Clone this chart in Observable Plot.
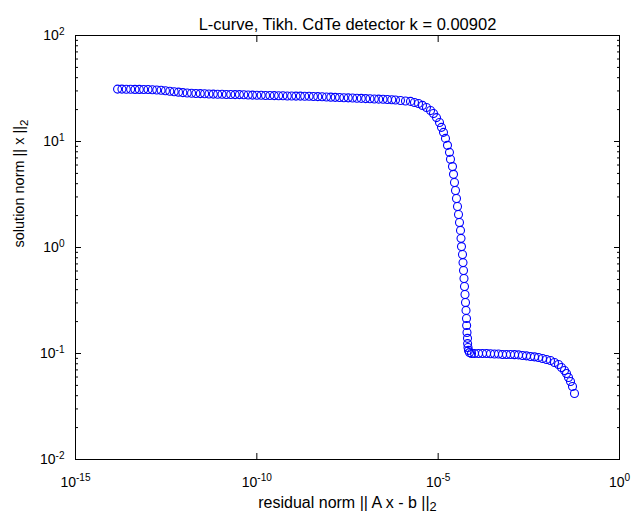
<!DOCTYPE html>
<html>
<head>
<meta charset="utf-8">
<script src="https://cdn.jsdelivr.net/npm/d3@7"></script>
<script src="https://cdn.jsdelivr.net/npm/@observablehq/plot@0.6"></script>
<style>
  html, body { margin: 0; padding: 0; background: #fff; }
  #chart svg { display: block; }
</style>
</head>
<body>
<div id="chart"></div>
<script>
// ---- data ----
const titleText = "L-curve, Tikh. CdTe detector k = 0.00902";
const xLabelText = "residual norm || A x - b ||_2";
const yLabelText = "solution norm || x ||_2";

const xTickExponents = [-15, -10, -5, 0];
const yTickExponents = [-2, -1, 0, 1, 2];

const residualNorm = [
  1.445e-14, 1.905e-14, 2.512e-14, 3.311e-14, 4.365e-14, 5.754e-14, 7.586e-14, 1.000e-13,
  1.318e-13, 1.738e-13, 2.291e-13, 3.020e-13, 3.981e-13, 5.248e-13, 6.918e-13, 9.120e-13,
  1.202e-12, 1.585e-12, 2.089e-12, 2.754e-12, 3.631e-12, 4.786e-12, 6.310e-12, 8.318e-12,
  1.096e-11, 1.445e-11, 1.905e-11, 2.512e-11, 3.311e-11, 4.365e-11, 5.754e-11, 7.586e-11,
  1.000e-10, 1.318e-10, 1.738e-10, 2.291e-10, 3.020e-10, 3.981e-10, 5.248e-10, 6.918e-10,
  9.120e-10, 1.202e-9, 1.585e-9, 2.089e-9, 2.754e-9, 3.631e-9, 4.786e-9, 6.310e-9,
  8.318e-9, 1.096e-8, 1.445e-8, 1.905e-8, 2.512e-8, 3.311e-8, 4.365e-8, 5.754e-8,
  7.586e-8, 1.000e-7, 1.318e-7, 1.738e-7, 2.291e-7, 3.020e-7, 3.981e-7, 5.248e-7,
  6.650e-7, 9.140e-7, 1.256e-6, 1.726e-6, 2.223e-6, 2.871e-6, 3.698e-6, 4.764e-6,
  6.152e-6, 7.430e-6, 8.995e-6, 1.089e-5, 1.236e-5, 1.403e-5, 1.592e-5, 1.807e-5,
  2.051e-5, 2.188e-5, 2.483e-5, 2.649e-5, 2.818e-5, 3.006e-5, 3.199e-5, 3.412e-5,
  3.639e-5, 3.873e-5, 4.130e-5, 4.266e-5, 4.395e-5, 4.688e-5, 4.842e-5, 5.000e-5,
  5.152e-5, 5.321e-5, 5.495e-5, 5.675e-5, 5.861e-5, 6.039e-5, 6.095e-5, 6.237e-5,
  6.442e-5, 6.486e-5, 6.653e-5, 6.855e-5, 7.311e-5, 8.299e-5,
  1.005e-4, 1.294e-4, 1.667e-4, 2.153e-4, 2.773e-4, 3.573e-4, 4.603e-4, 5.943e-4,
  7.656e-4, 9.863e-4, 1.274e-3, 1.641e-3, 2.113e-3, 2.723e-3, 3.516e-3, 4.529e-3,
  5.834e-3, 7.534e-3, 9.705e-3, 1.250e-2, 1.611e-2, 2.080e-2, 2.512e-2, 3.041e-2,
  3.459e-2, 3.926e-2, 4.457e-2, 5.058e-2, 5.741e-2
];

const solutionNorm = [
  31.2, 31.2, 31.1, 31.1, 31.0, 31.0, 30.9, 30.9,
  30.8, 30.6, 30.4, 30.1, 29.8, 29.5, 29.2, 28.9,
  28.7, 28.5, 28.4, 28.3, 28.2, 28.1, 28.0, 27.9,
  27.9, 27.8, 27.8, 27.7, 27.7, 27.6, 27.5, 27.4,
  27.3, 27.3, 27.2, 27.2, 27.1, 27.0, 27.0, 26.9,
  26.9, 26.8, 26.8, 26.7, 26.7, 26.6, 26.5, 26.4,
  26.3, 26.2, 26.1, 26.0, 25.9, 25.8, 25.7, 25.6,
  25.5, 25.4, 25.3, 25.2, 25.1, 25.0, 24.9, 24.8,
  24.6, 24.4, 24.1, 23.9, 23.3, 22.8, 21.9, 20.9,
  19.6, 18.4, 16.8, 15.1, 13.6, 12.2, 10.7, 9.2,
  7.9, 6.8, 5.8, 4.9, 4.1, 3.45, 2.90, 2.44,
  2.05, 1.72, 1.45, 1.22, 1.02, 0.86, 0.72, 0.607,
  0.510, 0.429, 0.360, 0.303, 0.255, 0.214, 0.184, 0.158,
  0.139, 0.124, 0.114, 0.107, 0.102, 0.100,
  0.100, 0.100, 0.100, 0.100, 0.0995, 0.099, 0.099, 0.098,
  0.098, 0.098, 0.0975, 0.097, 0.0957, 0.095, 0.0937, 0.093,
  0.0917, 0.0897, 0.0878, 0.0859, 0.0822, 0.0787, 0.0738, 0.0691,
  0.0648, 0.0594, 0.0545, 0.0489, 0.0420
];

// ---- build ----
const points = residualNorm.map((x, i) => ({x, y: solutionNorm[i]}));
const xMajor = xTickExponents.map(e => 10 ** e);
const yMajor = yTickExponents.map(e => 10 ** e);
const yMinor = [];
for (const e of yTickExponents.slice(0, -1)) for (let m = 2; m <= 9; m++) yMinor.push(m * 10 ** e);

const font = "'Liberation Sans', Arial, Helvetica, sans-serif";
const blank = () => "";

const chart = Plot.plot({
  width: 631,
  height: 517,
  marginLeft: 75,
  marginRight: 12,
  marginTop: 35,
  marginBottom: 58,
  style: {fontFamily: font, fontSize: "14px", background: "#fff", color: "#000"},
  x: {type: "log", domain: [1e-15, 1]},
  y: {type: "log", domain: [1e-2, 1e2]},
  marks: [
    Plot.dot(points, {x: "x", y: "y", r: 4, stroke: "#0000ff", fill: "none", strokeWidth: 1.1}),
    Plot.frame({stroke: "#000", strokeWidth: 1}),
    Plot.axisX(xMajor, {anchor: "bottom", tickSize: -6, tickFormat: blank, label: null}),
    Plot.axisX(xMajor, {anchor: "top", tickSize: -6, tickFormat: blank, label: null}),
    Plot.axisY(yMajor, {anchor: "left", tickSize: -6, tickFormat: blank, label: null}),
    Plot.axisY(yMajor, {anchor: "right", tickSize: -6, tickFormat: blank, label: null}),
    Plot.axisY(yMinor, {anchor: "left", tickSize: -3, tickFormat: blank, label: null}),
    Plot.axisY(yMinor, {anchor: "right", tickSize: -3, tickFormat: blank, label: null}),
    // tick labels
    Plot.text(xTickExponents, {x: e => 10 ** e, text: e => "10^" + e, frameAnchor: "bottom",
      lineAnchor: "bottom", dy: 27, fontSize: 14, fill: "#000"}),
    Plot.text(yTickExponents, {y: e => 10 ** e, text: e => "10^" + e, frameAnchor: "left",
      textAnchor: "end", dx: -11, fontSize: 14, fill: "#000"}),
    // title and axis labels
    Plot.text([titleText], {text: d => d, frameAnchor: "top", lineAnchor: "bottom", dy: -6, fontSize: 16.5, fill: "#000"}),
    Plot.text([xLabelText], {text: d => d, frameAnchor: "bottom", lineAnchor: "bottom", dy: 48, fontSize: 16, fill: "#000"}),
    Plot.text([yLabelText], {text: d => d, frameAnchor: "left", rotate: -90, dx: -56, fontSize: 14.5, fill: "#000"})
  ]
});

// superscripts / subscripts as real tspans
d3.select(chart).selectAll("text").each(function () {
  const t = d3.select(this);
  const s = t.text();
  if (s.includes("^")) {
    const [base, exp] = s.split("^");
    t.text(null);
    t.append("tspan").text(base);
    t.append("tspan").attr("dy", "-0.5em").attr("font-size", "0.72em").text(exp);
  } else if (s.includes("_")) {
    const [base, sub] = s.split("_");
    t.text(null);
    t.append("tspan").text(base);
    t.append("tspan").attr("dy", "0.3em").attr("font-size", "0.8em").text(sub);
  }
});

document.getElementById("chart").appendChild(chart);
</script>
</body>
</html>
